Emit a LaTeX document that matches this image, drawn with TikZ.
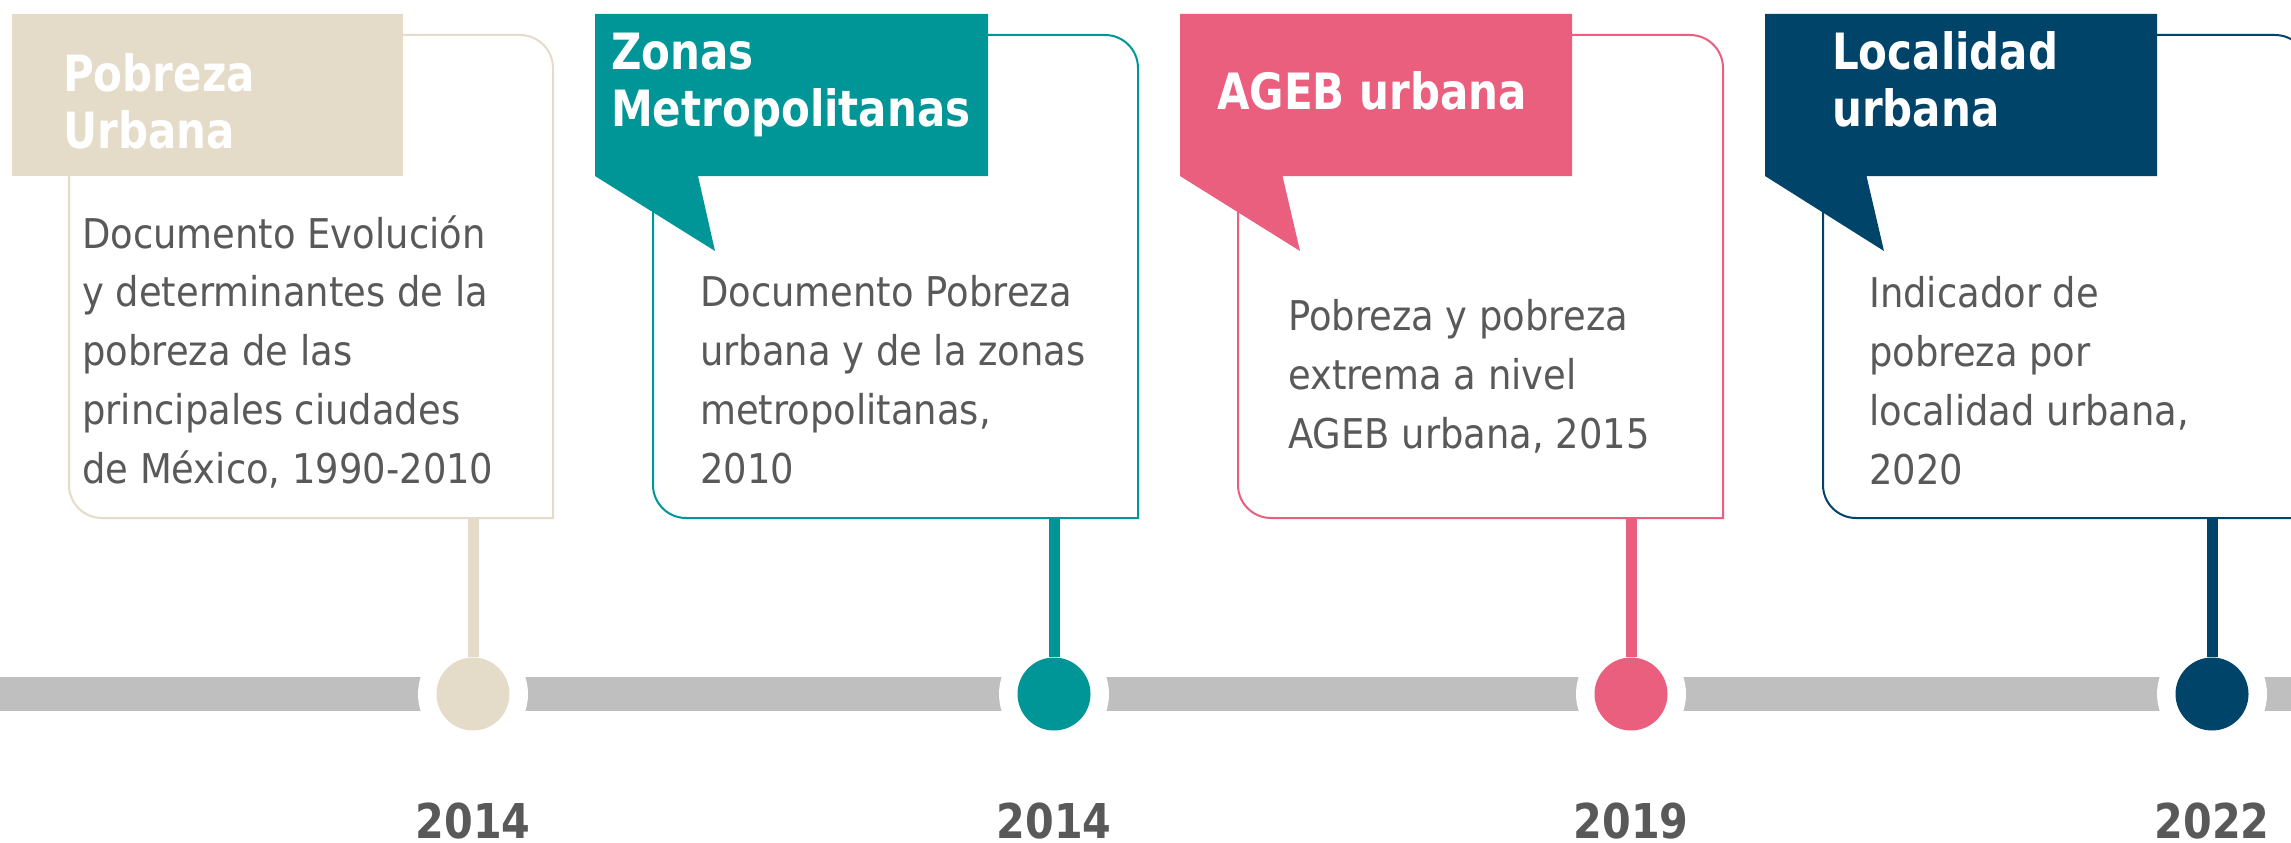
\documentclass[tikz,border=0pt]{standalone}
\usepackage{fontspec}
\setmainfont{DejaVu Sans}
\newfontfamily\yearfont[FakeStretch=0.86]{DejaVu Sans}
\newfontfamily\bodyfont[FakeStretch=0.9]{DejaVu Sans}
\newfontfamily\headfont[FakeStretch=0.84]{DejaVu Sans}
\definecolor{cbeige}{HTML}{E4DCC8}
\definecolor{cteal}{HTML}{009597}
\definecolor{cpink}{HTML}{E95F7D}
\definecolor{cnavy}{HTML}{00446A}
\definecolor{cbar}{HTML}{BFBFBF}
\definecolor{ctext}{HTML}{595959}
\newcommand\tlframe[3]{%
  \draw[frameline, draw=#3] (#1,35) -- ({#2-33},35) .. controls ({#2-14.8},35) and (#2,49.8) .. (#2,68) -- (#2,518) -- ({#1+33},518) .. controls ({#1+14.8},518) and (#1,503.2) .. (#1,485) -- cycle;}
\begin{document}
\begin{tikzpicture}[x=1pt,y=-1pt,
  frameline/.style={line width=2pt, fill=white},
  bodytext/.style={inner sep=0pt, anchor=base west, align=left, text=ctext, font=\bodyfont\fontsize{41}{58.8}\selectfont},
  headtext/.style={inner sep=0pt, anchor=base west, align=left, text=white, font=\headfont\bfseries\fontsize{50}{57.5}\selectfont},
  yeartext/.style={inner sep=0pt, anchor=base, text depth=0pt, text=ctext, font=\yearfont\bfseries\fontsize{48}{50}\selectfont},
  gap/.style={circle, fill=white, minimum size=110pt, inner sep=0pt},
  dot/.style={circle, minimum size=73pt, inner sep=0pt},
  stemline/.style={line width=11pt}]
\clip (0,0) rectangle (2291,843);
\fill[white] (0,0) rectangle (2291,843);

% timeline bar
\fill[cbar] (0,677) rectangle (2291,711);
\node[gap] (g1) at (473,694) {};
\node[gap] (g2) at (1054,694) {};
\node[gap] (g3) at (1631,694) {};
\node[gap] (g4) at (2212,694) {};
\node[dot, fill=cbeige] (c1) at (473,694) {};
\node[dot, fill=cteal] (c2) at (1054,694) {};
\node[dot, fill=cpink] (c3) at (1631,694) {};
\node[dot, fill=cnavy] (c4) at (2212,694) {};

% frames
\tlframe{69}{553}{cbeige}
\tlframe{653}{1138}{cteal}
\tlframe{1238}{1723}{cpink}
\tlframe{1823}{2308}{cnavy}

\coordinate (s1) at (473,518);
\coordinate (s2) at (1054,518);
\coordinate (s3) at (1631,518);
\coordinate (s4) at (2212,518);
\draw[stemline, cbeige] (s1) -- (c1.north);
\draw[stemline, cteal] (s2) -- (c2.north);
\draw[stemline, cpink] (s3) -- (c3.north);
\draw[stemline, cnavy] (s4) -- (c4.north);

% headers
\fill[cbeige] (11.5,14) -- (402.5,14) -- (402.5,176) -- (11.5,176) -- cycle;
\fill[cteal] (595,14) -- (988,14) -- (988,176) -- (698,176) -- (715,251) -- (595,176) -- cycle;
\fill[cpink] (1180,14) -- (1572,14) -- (1572,176) -- (1282.5,176) -- (1300,251) -- (1180,176) -- cycle;
\fill[cnavy] (1765,14) -- (2157,14) -- (2157,176) -- (1866.5,176) -- (1884,251) -- (1765,176) -- cycle;

\node[headtext] (h1) at (63,148.5) {Pobreza\\Urbana};
\node[headtext] (h2) at (611,126.7) {Zonas\\Metropolitanas};
\node[headtext] (h3) at (1217,109.4) {AGEB urbana};
\node[headtext] (h4) at (1832,126.5) {Localidad\\urbana};

\node[bodytext] (b1) at (82,483.3) {Documento Evolución\\y determinantes de la\\pobreza de las\\principales ciudades\\de México, 1990-2010};
\node[bodytext] (b2) at (700,483.3) {Documento Pobreza\\urbana y de la zonas\\metropolitanas,\\2010};
\node[bodytext] (b3) at (1288,448.3) {Pobreza y pobreza\\extrema a nivel\\AGEB urbana, 2015};
\node[bodytext] (b4) at (1869,484) {Indicador de\\pobreza por\\localidad urbana,\\2020};

\node[yeartext] (y1) at (473,838) {2014};
\node[yeartext] (y2) at (1054,838) {2014};
\node[yeartext] (y3) at (1631,838) {2019};
\node[yeartext] (y4) at (2212,838) {2022};
\end{tikzpicture}
\end{document}
